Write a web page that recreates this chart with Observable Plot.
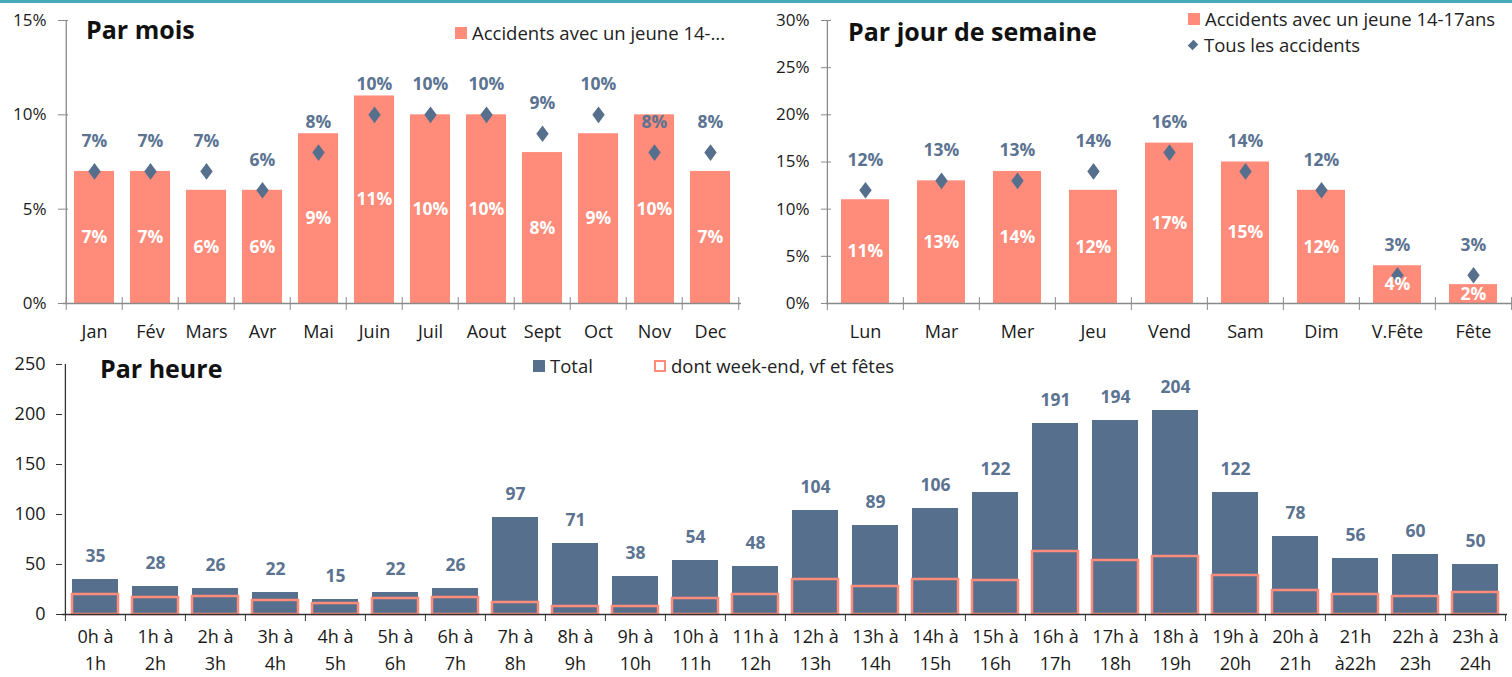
<!DOCTYPE html>
<html><head><meta charset="utf-8">
<script src="https://cdn.jsdelivr.net/npm/d3@7"></script>
<script src="https://cdn.jsdelivr.net/npm/@observablehq/plot@0.6"></script>
<style>
body{margin:0;background:#fff;}
#root{position:relative;width:1512px;height:677px;overflow:hidden;font-family:"Open Sans",sans-serif;}
.topline{position:absolute;left:0;top:0;width:1512px;height:3px;background:#47a9ba;}
.title{position:absolute;font-weight:700;font-size:25px;color:#111;line-height:1;}
.leg{position:absolute;font-size:18.5px;color:#222;display:flex;align-items:center;white-space:nowrap;line-height:1;}
.sw{display:inline-block;width:12px;height:12px;margin-right:5px;box-sizing:border-box;}
</style></head><body><div id="root"><div class="topline"></div></div>
<script>
// ---- data ----
const months = ["Jan","Fév","Mars","Avr","Mai","Juin","Juil","Aout","Sept","Oct","Nov","Dec"];
const monthYoung = [7,7,6,6,9,11,10,10,8,9,10,7];
const monthAll = [7,7,7,6,8,10,10,10,9,10,8,8];
const days = ["Lun","Mar","Mer","Jeu","Vend","Sam","Dim","V.Fête","Fête"];
const dayYoung = [11,13,14,12,17,15,12,4,2];
const dayAll = [12,13,13,14,16,14,12,3,3];
const hours = ["0h à\n1h","1h à\n2h","2h à\n3h","3h à\n4h","4h à\n5h","5h à\n6h","6h à\n7h","7h à\n8h","8h à\n9h","9h à\n10h","10h à\n11h","11h à\n12h","12h à\n13h","13h à\n14h","14h à\n15h","15h à\n16h","16h à\n17h","17h à\n18h","18h à\n19h","19h à\n20h","20h à\n21h","21h\nà22h","22h à\n23h","23h à\n24h"];
const hourTotal = [35,28,26,22,15,22,26,97,71,38,54,48,104,89,106,122,191,194,204,122,78,56,60,50];
const hourWeekend = [20,17,18,14,11,16,17,12,8,8,16,20,35,28,35,34,63,54,58,39,24,20,18,22];
const pctTicksLeft = [0,5,10,15];
const pctTicksRight = [0,5,10,15,20,25,30];
const countTicks = [0,50,100,150,200,250];

// ---- styles ----
const SALMON = "#ff8b7b", SLATE = "#566f8c", LABEL = "#5b7391", AXIS = "#8a8a8a", INK = "#1a1a1a";
const FONT = "'Open Sans', sans-serif";

const diamondSym = {draw(ctx, size){const s=Math.sqrt(size);const h=s*0.67,w=s*0.5;ctx.moveTo(0,-h);ctx.lineTo(w,0);ctx.lineTo(0,h);ctx.lineTo(-w,0);ctx.closePath();}};

const root = document.getElementById("root");
function place(el, left, top){el.style.position="absolute";el.style.left=left+"px";el.style.top=top+"px";root.appendChild(el);}

function topPanel({cats, young, all, left, width, height, mL, mR, mT, mB, ymax, ticks, padIn}){
  const data = cats.map((c,i)=>({cat:c, young:young[i], all:all[i]}));
  const step = (width-mL-mR)/cats.length;
  const p = Plot.plot({
    width, height, marginLeft:mL, marginRight:mR, marginTop:mT, marginBottom:mB,
    style:{fontFamily:FONT, fontSize:"17px", color:INK, background:"transparent", overflow:"visible"},
    x:{domain:cats, paddingInner:padIn, paddingOuter:padIn/2, align:0.5, label:null},
    y:{domain:[0,ymax], label:null},
    marks:[
      Plot.barY(data,{x:"cat", y:"young", fill:SALMON}),
      Plot.ruleY([0],{stroke:AXIS, strokeWidth:1.3}),
      Plot.ruleX([cats[0]],{dx:-step/2, stroke:AXIS, strokeWidth:1.3}),
      Plot.axisY({ticks, tickFormat:d=>d+"%", tickSize:10, dx:5, tickPadding:12, stroke:AXIS, fill:INK, fontSize:17, label:null}),
      Plot.axisX({tickSize:0, tickPadding:22, fill:INK, fontSize:18, label:null}),
      Plot.axisX({tickSize:13, dy:-6, dx:-step/2, tickFormat:()=>"", stroke:AXIS, label:null}),
      Plot.axisX({ticks:[cats[cats.length-1]], tickSize:13, dy:-6, dx:step/2, tickFormat:()=>"", stroke:AXIS, label:null}),
      Plot.dot(data,{x:"cat", y:"all", symbol:diamondSym, r:7, fill:SLATE}),
      Plot.text(data,{x:"cat", y:"all", text:d=>d.all+"%", dy:-30, fill:LABEL, fontWeight:700, fontSize:17.5}),
      Plot.text(data,{x:"cat", y:d=>d.young/2, text:d=>d.young+"%", fill:"white", fontWeight:700, fontSize:17.5})
    ]
  });
  place(p, left, 0);
}

topPanel({cats:months, young:monthYoung, all:monthAll, left:0, width:760, height:345, mL:63, mR:19, mT:20, mB:42, ymax:15, ticks:pctTicksLeft, padIn:0.29});
topPanel({cats:days, young:dayYoung, all:dayAll, left:760, width:752, height:345, mL:66, mR:0, mT:20, mB:42, ymax:30, ticks:pctTicksRight, padIn:0.37});

// bottom panel
{
  const data = hours.map((h,i)=>({h, total:hourTotal[i], we:hourWeekend[i]}));
  const width=1512, height=337, mL=62, mR=5, mT=24, mB=63;
  const step=(width-mL-mR)/hours.length;
  const p = Plot.plot({
    width, height, marginLeft:mL, marginRight:mR, marginTop:mT, marginBottom:mB,
    style:{fontFamily:FONT, fontSize:"17px", color:INK, background:"transparent", overflow:"visible"},
    x:{domain:hours, paddingInner:0.235, paddingOuter:0.1175, align:0.5, label:null},
    y:{domain:[0,250], label:null},
    marks:[
      Plot.barY(data,{x:"h", y:"total", fill:SLATE}),
      Plot.barY(data,{x:"h", y:"we", fill:"none", stroke:SALMON, strokeWidth:2.5}),
      Plot.ruleY([0],{stroke:"#333", strokeWidth:1.3}),
      Plot.ruleX([hours[0]],{dx:-step/2, stroke:"#333", strokeWidth:1.3}),
      Plot.axisY({ticks:countTicks, tickSize:6, tickPadding:11, stroke:"#333", fill:INK, fontSize:18, label:null}),
      Plot.axisX({tickSize:0, tickPadding:9, lineHeight:1.5, fill:INK, fontSize:18, label:null}),
      Plot.axisX({tickSize:7, dx:-step/2, tickFormat:()=>"", stroke:"#333", label:null}),
      Plot.axisX({ticks:[hours[hours.length-1]], tickSize:7, dx:step/2, tickFormat:()=>"", stroke:"#333", label:null}),
      Plot.text(data,{x:"h", y:"total", text:d=>String(d.total), dy:-23, fill:LABEL, fontWeight:700, fontSize:17.5})
    ]
  });
  place(p, 0, 340);
}

// titles
function title(t, l, tp){const d=document.createElement("div");d.className="title";d.textContent=t;place(d,l,tp);}
title("Par mois", 86, 17);
title("Par jour de semaine", 848, 19);
title("Par heure", 100, 356);

function legend(kind, color, label, l, tp){
  const d=document.createElement("div");d.className="leg";
  const sw=document.createElement("span");sw.className="sw";
  if(kind==="fill"){sw.style.background=color;}
  else if(kind==="outline"){sw.style.border="2px solid "+color;}
  else {sw.style.background=color;sw.style.width="8px";sw.style.height="8px";sw.style.transform="rotate(45deg) scale(0.85,1)";sw.style.margin="0 7px 0 2px";}
  const tx=document.createElement("span");tx.textContent=label;
  d.appendChild(sw);d.appendChild(tx);
  place(d,l,tp);
}
legend("fill",SALMON,"Accidents avec un jeune 14-...", 455, 24);
legend("fill",SALMON,"Accidents avec un jeune 14-17ans", 1188, 10);
legend("diamond",SLATE,"Tous les accidents", 1187, 36);
legend("fill",SLATE,"Total", 533, 357);
legend("outline",SALMON,"dont week-end, vf et fêtes", 654, 357);
</script></body></html>
